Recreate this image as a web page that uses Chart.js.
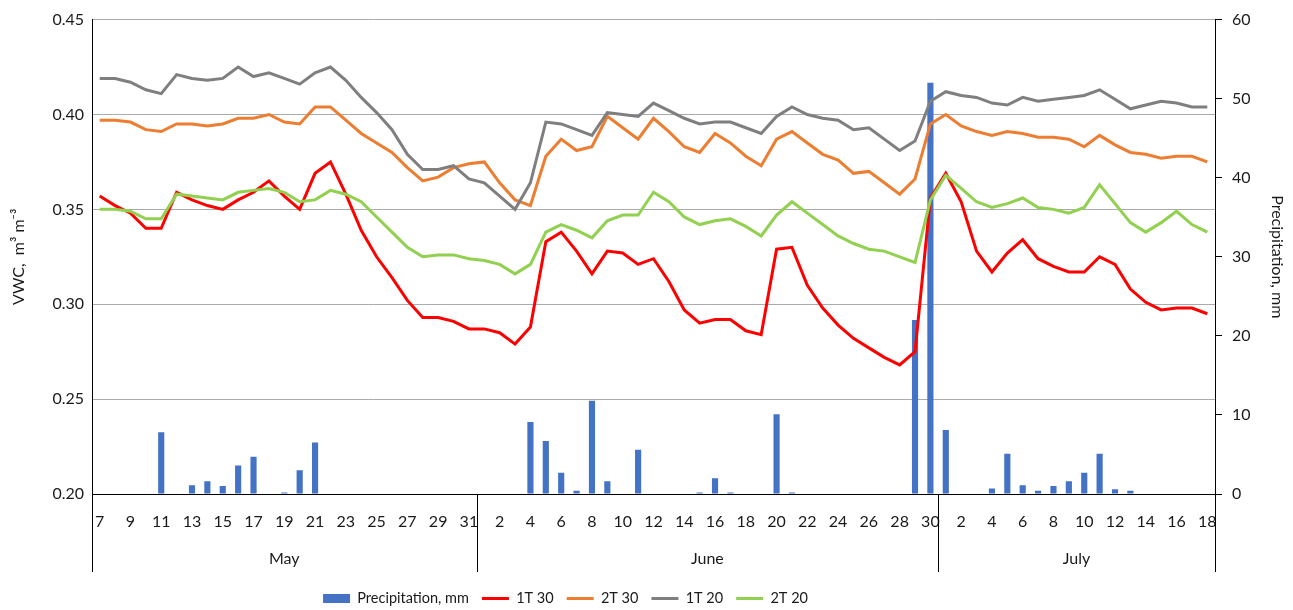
<!DOCTYPE html>
<html>
<head>
<meta charset="utf-8">
<script src="https://cdn.jsdelivr.net/npm/chart.js@4.4.1/dist/chart.umd.min.js"></script>
<style>
html,body{margin:0;padding:0;background:#fff;}
#wrap{width:1293px;height:610px;position:relative;}
</style>
</head>
<body>
<div id="wrap"><canvas id="c"></canvas></div>
<script>
// ---- categories (day of month, May 7 .. July 18) ----
const dayLabels = [
  7,8,9,10,11,12,13,14,15,16,17,18,19,20,21,22,23,24,25,26,27,28,29,30,31,
  1,2,3,4,5,6,7,8,9,10,11,12,13,14,15,16,17,18,19,20,21,22,23,24,25,26,27,28,29,30,
  1,2,3,4,5,6,7,8,9,10,11,12,13,14,15,16,17,18
];
const monthNames = ['May', 'June', 'July'];

// ---- series ----
const precipitation = [
  0,0,0,0,7.8,0,1.1,1.6,1.0,3.6,4.7,0,0.2,3.0,6.5,0,0,0,0,0,0,0,0,0,0,
  0,0,0,9.1,6.7,2.7,0.4,11.8,1.6,0,5.6,0,0,0,0.2,2.0,0.2,0,0,10.1,0.2,0,0,0,0,0,0,0,22.0,52.0,
  8.1,0,0,0.7,5.1,1.1,0.4,1.0,1.6,2.7,5.1,0.6,0.4,0,0,0,0,0
];
const vwc1T30 = [
  0.357,0.352,0.348,0.340,0.340,0.359,0.355,0.352,0.350,0.355,0.359,0.365,0.357,0.350,0.369,0.375,0.358,0.339,0.325,0.314,0.302,0.293,0.293,0.291,0.287,
  0.287,0.285,0.279,0.288,0.333,0.338,0.328,0.316,0.328,0.327,0.321,0.324,0.312,0.297,0.290,0.292,0.292,0.286,0.284,0.329,0.330,0.310,0.298,0.289,0.282,0.277,0.272,0.268,0.275,0.356,
  0.369,0.354,0.328,0.317,0.327,0.334,0.324,0.320,0.317,0.317,0.325,0.321,0.308,0.301,0.297,0.298,0.298,0.295
];
const vwc2T30 = [
  0.397,0.397,0.396,0.392,0.391,0.395,0.395,0.394,0.395,0.398,0.398,0.400,0.396,0.395,0.404,0.404,0.397,0.390,0.385,0.380,0.372,0.365,0.367,0.372,0.374,
  0.375,0.364,0.355,0.352,0.378,0.387,0.381,0.383,0.399,0.393,0.387,0.398,0.391,0.383,0.380,0.390,0.385,0.378,0.373,0.387,0.391,0.385,0.379,0.376,0.369,0.370,0.364,0.358,0.366,0.395,
  0.400,0.394,0.391,0.389,0.391,0.390,0.388,0.388,0.387,0.383,0.389,0.384,0.380,0.379,0.377,0.378,0.378,0.375
];
const vwc1T20 = [
  0.419,0.419,0.417,0.413,0.411,0.421,0.419,0.418,0.419,0.425,0.420,0.422,0.419,0.416,0.422,0.425,0.418,0.409,0.401,0.392,0.379,0.371,0.371,0.373,0.366,
  0.364,0.357,0.350,0.364,0.396,0.395,0.392,0.389,0.401,0.400,0.399,0.406,0.402,0.398,0.395,0.396,0.396,0.393,0.390,0.399,0.404,0.400,0.398,0.397,0.392,0.393,0.387,0.381,0.386,0.407,
  0.412,0.410,0.409,0.406,0.405,0.409,0.407,0.408,0.409,0.410,0.413,0.408,0.403,0.405,0.407,0.406,0.404,0.404
];
const vwc2T20 = [
  0.350,0.350,0.349,0.345,0.345,0.358,0.357,0.356,0.355,0.359,0.360,0.361,0.359,0.354,0.355,0.360,0.358,0.354,0.346,0.338,0.330,0.325,0.326,0.326,0.324,
  0.323,0.321,0.316,0.321,0.338,0.342,0.339,0.335,0.344,0.347,0.347,0.359,0.354,0.346,0.342,0.344,0.345,0.341,0.336,0.347,0.354,0.348,0.342,0.336,0.332,0.329,0.328,0.325,0.322,0.355,
  0.368,0.361,0.354,0.351,0.353,0.356,0.351,0.350,0.348,0.351,0.363,0.353,0.343,0.338,0.343,0.349,0.342,0.338
];

// ---- axis ranges ----
const vwcMin = 0.20, vwcMax = 0.45, vwcStep = 0.05;
const precMin = 0, precMax = 60, precStep = 10;

const FONT = 'Lato, "Open Sans", "Liberation Sans", sans-serif';
const TEXT = '#1a1a1a';
Chart.defaults.font.family = FONT;
Chart.defaults.color = TEXT;

const monthPlugin = {
  id: 'monthRow',
  afterDraw(chart) {
    const {ctx, chartArea: a, scales: {x}} = chart;
    const starts = [0];
    for (let i = 1; i < dayLabels.length; i++) if (dayLabels[i] < dayLabels[i - 1]) starts.push(i);
    const edges = [a.left];
    for (let k = 1; k < starts.length; k++) {
      edges.push((x.getPixelForValue(starts[k] - 1) + x.getPixelForValue(starts[k])) / 2);
    }
    edges.push(a.right);
    ctx.save();
    ctx.strokeStyle = '#000';
    ctx.lineWidth = 1;
    edges.forEach(e => {
      const px = Math.round(e) + 0.5;
      ctx.beginPath();
      ctx.moveTo(px, a.bottom);
      ctx.lineTo(px, a.bottom + 78);
      ctx.stroke();
    });
    ctx.fillStyle = TEXT;
    ctx.font = '16px ' + FONT;
    ctx.textAlign = 'center';
    ctx.textBaseline = 'middle';
    monthNames.forEach((m, k) => ctx.fillText(m, (edges[k] + edges[k + 1]) / 2, a.bottom + 65));
    ctx.restore();
  }
};

const legendShift = {
  id: 'legendShift',
  afterLayout(chart) {
    const L = chart.legend;
    if (!L) return;
    const pad = L.options.labels.padding;
    const cx = (L.left + pad + L.right) / 2;
    const dx = 572 - cx;
    const cy = L.top + L.height / 2;
    const dy = 597 - cy;
    L.left += dx; L.right += dx;
    L.top += dy; L.bottom += dy;
  }
};

new Chart(document.getElementById('c'), {
  type: 'bar',
  data: {
    labels: dayLabels,
    datasets: [
      {type: 'bar', label: 'Precipitation, mm', data: precipitation, yAxisID: 'y1',
       backgroundColor: '#4472C4', barPercentage: 0.4, categoryPercentage: 1, order: 5},
      {type: 'line', label: '1T 30', data: vwc1T30, yAxisID: 'y', borderColor: '#FF0000', backgroundColor: '#FF0000',
       borderWidth: 3, pointRadius: 0, tension: 0, order: 4},
      {type: 'line', label: '2T 30', data: vwc2T30, yAxisID: 'y', borderColor: '#ED7D31', backgroundColor: '#ED7D31',
       borderWidth: 3, pointRadius: 0, tension: 0, order: 3},
      {type: 'line', label: '1T 20', data: vwc1T20, yAxisID: 'y', borderColor: '#7F7F7F', backgroundColor: '#7F7F7F',
       borderWidth: 3, pointRadius: 0, tension: 0, order: 2},
      {type: 'line', label: '2T 20', data: vwc2T20, yAxisID: 'y', borderColor: '#92D050', backgroundColor: '#92D050',
       borderWidth: 3, pointRadius: 0, tension: 0, order: 1}
    ]
  },
  options: {
    responsive: true,
    maintainAspectRatio: false,
    animation: false,
    layout: {padding: {top: 19, left: 0, right: 0, bottom: 0}},
    scales: {
      x: {
        offset: true,
        grid: {display: false, drawTicks: false},
        border: {display: true, color: '#000', width: 1},
        ticks: {
          autoSkip: false, maxRotation: 0, minRotation: 0, padding: 18,
          font: {size: 16}, color: TEXT,
          callback: (v, i) => (i % 2 === 0 ? String(dayLabels[i]) : '')
        },
        afterFit: s => {
          const lh = s.chart.legend ? s.chart.legend.height : 0;
          s.height = s.chart.height - 494 - lh;
        }
      },
      y: {
        position: 'left', min: vwcMin, max: vwcMax,
        ticks: {stepSize: vwcStep, padding: 8, font: {size: 16}, color: TEXT, callback: v => Number(v).toFixed(2)},
        grid: {color: '#ababab', drawTicks: false, lineWidth: 1},
        border: {display: true, color: '#000', width: 1},
        title: {display: true, text: 'VWC,  m³ m⁻³', font: {size: 16}, color: TEXT, padding: {top: 9, bottom: 0}},
        afterFit: s => { s.width = 92; }
      },
      y1: {
        position: 'right', min: precMin, max: precMax,
        ticks: {stepSize: precStep, padding: 10, font: {size: 16}, color: TEXT},
        grid: {display: true, drawOnChartArea: false, drawTicks: true, tickLength: 7, color: '#000'},
        border: {display: true, color: '#000', width: 1},
        title: {display: true, text: 'Precipitation, mm', font: {size: 16}, color: TEXT, padding: {top: 6, bottom: 0}},
        afterFit: s => { s.width = 78; }
      }
    },
    plugins: {
      tooltip: {enabled: false},
      legend: {
        position: 'bottom',
        labels: {
          usePointStyle: true, pointStyleWidth: 27, boxHeight: 9, padding: 13,
          font: {size: 14.5}, color: TEXT,
          sort: (a, b) => a.datasetIndex - b.datasetIndex,
          generateLabels: chart => {
            const items = Chart.defaults.plugins.legend.labels.generateLabels(chart);
            items.forEach(it => {
              const ds = chart.data.datasets[it.datasetIndex];
              if (ds.type === 'bar') { it.pointStyle = 'rect'; it.lineWidth = 0; it.fillStyle = ds.backgroundColor; }
              else { it.pointStyle = 'line'; it.lineWidth = 3; it.strokeStyle = ds.borderColor; }
            });
            return items;
          }
        }
      }
    }
  },
  plugins: [monthPlugin, legendShift]
});
</script>
</body>
</html>
